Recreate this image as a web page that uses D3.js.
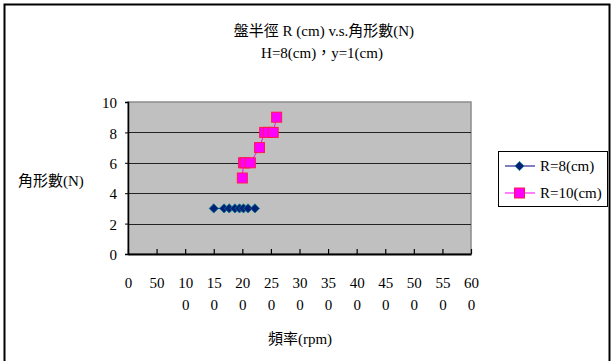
<!DOCTYPE html>
<html>
<head>
<meta charset="utf-8">
<script src="https://cdn.jsdelivr.net/npm/d3@7/dist/d3.min.js"></script>
<style>
  html, body { margin: 0; padding: 0; background: #fff; }
  svg { display: block; }
  text { font-family: "Liberation Serif", "Times New Roman", "Noto Sans CJK TC", serif; fill: #000; }
</style>
</head>
<body>
<script>
// Series: rpm vs number of corners (N)
const r8Freq  = [150, 168, 177, 187, 195, 202, 210, 222];
const r8N     = [3, 3, 3, 3, 3, 3, 3, 3];
const r10Freq = [200, 202, 205, 214, 230, 239, 245, 254, 260];
const r10N    = [5, 6, 6, 6, 7, 8, 8, 8, 9];

const xTicks = [0, 50, 100, 150, 200, 250, 300, 350, 400, 450, 500, 550, 600];
const yTicks = [0, 2, 4, 6, 8, 10];
const seriesNames = ["R=8(cm)", "R=10(cm)"];
const titleLines = ["盤半徑 R (cm) v.s.角形數(N)", "H=8(cm)，y=1(cm)"];
const xTitle = "頻率(rpm)";
const yTitle = "角形數(N)";

const W = 613, H = 361;
const plot = { left: 128, right: 471, top: 102, bottom: 254 };

const svg = d3.select("body").append("svg").attr("width", W).attr("height", H);

// chart frame
svg.append("rect").attr("x", 4.5).attr("y", 4.5).attr("width", 605).attr("height", 362)
  .attr("fill", "#fff").attr("stroke", "#000").attr("stroke-width", 2);

const x = d3.scaleLinear().domain([0, 600]).range([plot.left, plot.right]);
const y = d3.scaleLinear().domain([0, 10]).range([plot.bottom, plot.top]);

// plot area
svg.append("rect").attr("x", plot.left).attr("y", plot.top)
  .attr("width", plot.right - plot.left).attr("height", plot.bottom - plot.top)
  .attr("fill", "#c0c0c0").attr("stroke", "#8c8c8c").attr("stroke-width", 1.5);

// horizontal gridlines
svg.append("g").selectAll("line").data(yTicks.filter(d => d > 0 && d < 10)).join("line")
  .attr("x1", plot.left).attr("x2", plot.right)
  .attr("y1", d => Math.round(y(d)) + 0.5).attr("y2", d => Math.round(y(d)) + 0.5)
  .attr("stroke", "#222").attr("stroke-width", 1.2);

// y axis
const yAxis = svg.append("g").attr("transform", `translate(${plot.left},0)`)
  .call(d3.axisLeft(y).tickValues(yTicks).tickSize(3).tickPadding(8).tickFormat(d3.format("d")));
yAxis.select(".domain").attr("stroke", "#000").attr("stroke-width", 1.5);
yAxis.selectAll(".tick line").attr("stroke", "#000");
yAxis.selectAll(".tick text").attr("font-size", 15).attr("dy", "0.38em")
  .style("font-family", "Liberation Serif, serif");

// x axis with inward ticks; labels wider than two digits wrap onto a second line
const xAxis = svg.append("g").attr("transform", `translate(0,${plot.bottom})`)
  .call(d3.axisBottom(x).tickValues(xTicks).tickSizeInner(-5).tickSizeOuter(0).tickFormat(d3.format("d")));
xAxis.select(".domain").attr("stroke", "#000").attr("stroke-width", 2);
xAxis.selectAll(".tick line").attr("stroke", "#000").attr("stroke-width", 1.2);
xAxis.selectAll(".tick text").each(function(d) {
  const s = String(d);
  const t = d3.select(this).text(null).attr("font-size", 15).attr("y", null).attr("dy", null)
    .style("font-family", "Liberation Serif, serif");
  const first = s.length > 2 ? s.slice(0, 2) : s;
  t.append("tspan").attr("x", 0).attr("y", 34).text(first);
  if (s.length > 2) t.append("tspan").attr("x", 0).attr("y", 56).text(s.slice(2));
});

// series lines and markers
const r8 = r8Freq.map((f, i) => [f, r8N[i]]);
const r10 = r10Freq.map((f, i) => [f, r10N[i]]);
const line = d3.line().x(d => x(d[0])).y(d => y(d[1]));

svg.append("path").datum(r8).attr("d", line).attr("fill", "none")
  .attr("stroke", "#000080").attr("stroke-width", 1);
svg.append("path").datum(r10).attr("d", line).attr("fill", "none")
  .attr("stroke", "#ff00ff").attr("stroke-width", 1);

const diamond = (cx, cy, r) => `M${cx},${cy - r}L${cx + r},${cy}L${cx},${cy + r}L${cx - r},${cy}Z`;

svg.append("g").selectAll("path").data(r8).join("path")
  .attr("d", d => diamond(x(d[0]), y(d[1]), 4.6))
  .attr("fill", "#00207a").attr("stroke", "#0a7a86").attr("stroke-width", 0.8);

svg.append("g").selectAll("rect").data(r10).join("rect")
  .attr("x", d => x(d[0]) - 5).attr("y", d => y(d[1]) - 5)
  .attr("width", 10).attr("height", 10)
  .attr("fill", "#ff00ff").attr("stroke", "#ff1a4a").attr("stroke-width", 1);

// titles
const title = svg.append("text").attr("text-anchor", "middle").attr("font-size", 15);
title.append("tspan").attr("x", 324).attr("y", 36).text(titleLines[0]);
title.append("tspan").attr("x", 322).attr("y", 58).text(titleLines[1]);

svg.append("text").attr("x", 300).attr("y", 344).attr("text-anchor", "middle")
  .attr("font-size", 15).text(xTitle);
svg.append("text").attr("x", 18).attr("y", 186).attr("font-size", 15).text(yTitle);

// legend
const lg = svg.append("g");
lg.append("rect").attr("x", 498.5).attr("y", 151.5).attr("width", 109).attr("height", 55)
  .attr("fill", "#fff").attr("stroke", "#000").attr("stroke-width", 1);
const rows = [
  { name: seriesNames[0], y: 166, color: "#000080" },
  { name: seriesNames[1], y: 193, color: "#ff00ff" }
];
rows.forEach((r, i) => {
  lg.append("line").attr("x1", 505).attr("x2", 535).attr("y1", r.y).attr("y2", r.y)
    .attr("stroke", r.color).attr("stroke-width", 1);
  if (i === 0) {
    lg.append("path").attr("d", diamond(519.5, r.y, 4.6))
      .attr("fill", "#00207a").attr("stroke", "#0a7a86").attr("stroke-width", 0.8);
  } else {
    lg.append("rect").attr("x", 514.5).attr("y", r.y - 5).attr("width", 10).attr("height", 10)
      .attr("fill", "#ff00ff").attr("stroke", "#ff1a4a");
  }
  lg.append("text").attr("x", 540).attr("y", r.y + 5).attr("font-size", 15).text(r.name);
});
</script>
</body>
</html>
